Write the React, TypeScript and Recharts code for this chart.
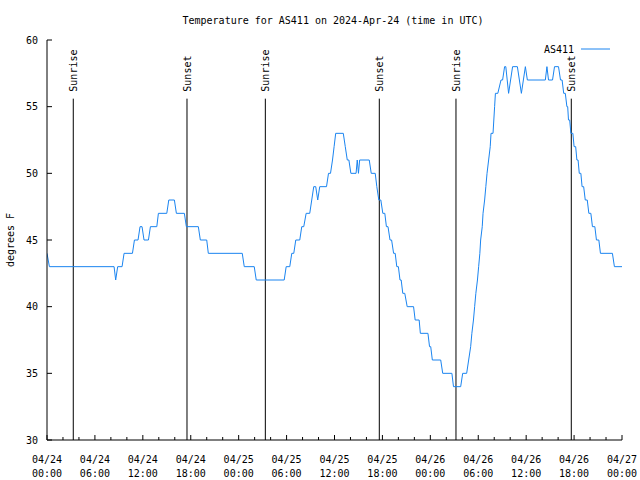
import React from 'react';
import { LineChart, Line, XAxis, YAxis, ReferenceLine, Legend } from 'recharts';

// Time (hours since 2024-04-24 00:00 UTC) and temperature (°F) breakpoints
const hours = [
  0, 0.3, 8.4, 8.6, 8.85, 9.4, 9.65, 10.7, 10.95, 11.4, 11.65, 11.9, 12.15, 12.7, 12.95, 13.75, 13.95,
  15.0, 15.25, 15.95, 16.2, 17.2, 17.45, 18.95, 19.2, 20.0, 20.2, 24.45, 24.7, 25.95, 26.2, 29.7,
  29.95, 30.4, 30.65, 30.9, 31.15, 31.65, 31.9, 32.15, 32.45, 32.9, 33.15, 33.4, 33.65, 33.9, 34.15,
  35.0, 35.25, 35.5, 35.75, 35.95, 36.15, 37.1, 37.35, 37.6, 37.8, 38.05, 38.7, 38.85, 39.0, 39.15,
  40.35, 40.6, 41.1, 41.3, 41.55, 41.8, 42.05, 42.3, 42.5, 42.7, 42.95, 43.15, 43.4, 43.6, 43.8, 44.0,
  44.2, 44.35, 44.55, 44.8, 45.1, 45.9, 46.1, 46.6, 46.75, 47.7, 47.9, 48.05, 48.25, 49.3, 49.55, 50.7,
  50.9, 51.8, 52.05, 52.55, 52.8, 53.05, 53.2, 53.4, 53.55, 53.7, 53.9, 54.05, 54.2, 54.3, 54.5, 54.6,
  54.8, 54.95, 55.1, 55.3, 55.5, 55.6, 55.85, 55.95, 56.05, 56.15, 56.45, 56.85, 57.05, 57.3, 57.45,
  57.8, 58.3, 58.9, 59.4, 59.9, 60.15, 62.4, 62.6, 62.8, 63.3, 63.55, 64.05, 64.3, 64.5, 64.7, 64.9,
  65.1, 65.2, 65.3, 65.45, 65.6, 65.85, 66.0, 66.2, 66.35, 66.5, 66.65, 66.85, 67.0, 67.2, 67.4, 67.65,
  67.85, 68.1, 68.3, 68.6, 68.8, 69.1, 69.3, 70.8, 71.05, 72,
];
const temps = [
  44, 43, 43, 42, 43, 43, 44, 44, 45, 45, 46, 46, 45, 45, 46, 46, 47,
  47, 48, 48, 47, 47, 46, 46, 45, 45, 44, 44, 43, 43, 42, 42,
  43, 43, 44, 44, 45, 45, 46, 46, 47, 47, 48, 49, 49, 48, 49,
  49, 50, 50, 51, 52, 53, 53, 52, 51, 51, 50, 50, 51, 50, 51,
  51, 50, 50, 49, 48, 48, 47, 47, 46, 46, 45, 45, 44, 44, 43, 43,
  42, 42, 41, 41, 40, 40, 39, 39, 38, 38, 37, 37, 36, 36, 35, 35,
  34, 34, 35, 35, 36, 37, 38, 39, 40, 41, 42, 43, 44, 45, 46, 47,
  48, 49, 50, 51, 52, 53, 53, 54, 55, 56, 56, 57, 57, 58, 58,
  56, 58, 58, 56, 58, 57, 57, 58, 57, 57, 58, 58, 57, 57, 56, 56,
  55, 55, 54, 54, 53, 53, 52, 52, 51, 51, 50, 50, 49, 49, 48, 48,
  47, 47, 46, 46, 45, 45, 44, 44, 43, 43,
];

const data = hours.map((h, i) => ({ h, t: temps[i] }));

const xTicks = [0, 2, 4, 6, 8, 10, 12, 14, 16, 18, 20, 22, 24, 26, 28, 30, 32, 34, 36, 38, 40, 42, 44, 46, 48, 50, 52, 54, 56, 58, 60, 62, 64, 66, 68, 70, 72];
const majorXTicks = [0, 6, 12, 18, 24, 30, 36, 42, 48, 54, 60, 66, 72];
const xDateLabels = ['04/24', '04/24', '04/24', '04/24', '04/25', '04/25', '04/25', '04/25', '04/26', '04/26', '04/26', '04/26', '04/27'];
const xTimeLabels = ['00:00', '06:00', '12:00', '18:00', '00:00', '06:00', '12:00', '18:00', '00:00', '06:00', '12:00', '18:00', '00:00'];
const yTicks = [30, 35, 40, 45, 50, 55, 60];

const sunHours = [3.29, 17.53, 27.34, 41.61, 51.21, 65.65];
const sunLabels = ['Sunrise', 'Sunset', 'Sunrise', 'Sunset', 'Sunrise', 'Sunset'];
const sunLineTop = 55.6;

const FONT = '"DejaVu Sans Mono", "Liberation Mono", monospace';
const LINE_COLOR = '#1a84f0';

const BottomTick = (props: any) => {
  const { x, y, payload } = props;
  const idx = majorXTicks.indexOf(payload.value);
  const major = idx >= 0;
  return (
    <g>
      <line x1={x} x2={x} y1={y} y2={y - (major ? 5 : 3)} stroke="#000" strokeWidth={1} />
      {major && (
        <text x={x} y={y + 22.5} textAnchor="middle" fontFamily={FONT} fontSize={10} fill="#000">
          {xDateLabels[idx]}
        </text>
      )}
      {major && (
        <text x={x} y={y + 36.5} textAnchor="middle" fontFamily={FONT} fontSize={10} fill="#000">
          {xTimeLabels[idx]}
        </text>
      )}
    </g>
  );
};

const TopTick = (props: any) => {
  const { x, y, payload } = props;
  const major = majorXTicks.indexOf(payload.value) >= 0;
  return <line x1={x} x2={x} y1={y} y2={y + (major ? 5 : 3)} stroke="#000" strokeWidth={1} />;
};

const LeftTick = (props: any) => {
  const { x, y, payload } = props;
  return (
    <g>
      <line x1={x} x2={x + 5} y1={y} y2={y} stroke="#000" strokeWidth={1} />
      <text x={x - 9} y={y + 3.5} textAnchor="end" fontFamily={FONT} fontSize={10} fill="#000">
        {payload.value}
      </text>
    </g>
  );
};

const RightTick = (props: any) => {
  const { x, y } = props;
  return <line x1={x} x2={x - 5} y1={y} y2={y} stroke="#000" strokeWidth={1} />;
};

const makeSunLabel = (text: string) => (props: any) => {
  const vb = props.viewBox || {};
  const x = (vb.x ?? 0) + 4;
  const y = (vb.y ?? 0) - 7;
  return (
    <text
      x={x}
      y={y}
      transform={`rotate(-90, ${x}, ${y})`}
      textAnchor="start"
      fontFamily={FONT}
      fontSize={10}
      fill="#000"
    >
      {text}
    </text>
  );
};

const LegendContent = () => (
  <svg width={90} height={18} style={{ display: 'block' }}>
    <text x={44} y={12.5} textAnchor="end" fontFamily={FONT} fontSize={10} fill="#000">
      AS411
    </text>
    <line x1={51} x2={80} y1={9} y2={9} stroke={LINE_COLOR} strokeWidth={1} />
  </svg>
);

export default function App() {
  return (
    <div style={{ position: 'absolute', left: 0, top: 0, width: 640, height: 480, background: '#fff' }}>
      <LineChart
        width={640}
        height={480}
        data={data}
        margin={{ top: 40, right: 18, bottom: 0, left: 0 }}
      >
        <XAxis
          xAxisId={0}
          dataKey="h"
          type="number"
          domain={[0, 72]}
          ticks={xTicks}
          interval={0}
          allowDataOverflow
          height={40}
          tickSize={0}
          tickMargin={0}
          tickLine={false}
          axisLine={{ stroke: '#000' }}
          tick={<BottomTick />}
        />
        <XAxis
          xAxisId="top"
          orientation="top"
          dataKey="h"
          type="number"
          domain={[0, 72]}
          ticks={xTicks}
          interval={0}
          allowDataOverflow
          height={0}
          tickSize={0}
          tickMargin={0}
          tickLine={false}
          axisLine={{ stroke: '#000' }}
          tick={<TopTick />}
        />
        <YAxis
          yAxisId={0}
          type="number"
          domain={[30, 60]}
          ticks={yTicks}
          interval={0}
          allowDataOverflow
          width={47}
          tickSize={0}
          tickMargin={0}
          tickLine={false}
          axisLine={{ stroke: '#000' }}
          tick={<LeftTick />}
        />
        <YAxis
          yAxisId="right"
          orientation="right"
          type="number"
          domain={[30, 60]}
          ticks={yTicks}
          interval={0}
          allowDataOverflow
          width={0}
          tickSize={0}
          tickMargin={0}
          tickLine={false}
          axisLine={{ stroke: '#000' }}
          tick={<RightTick />}
        />
        {sunHours.map((h, i) => (
          <ReferenceLine
            key={`sun-${i}`}
            xAxisId={0}
            yAxisId={0}
            segment={[{ x: h, y: sunLineTop }, { x: h, y: 30 }]}
            stroke="#000"
            strokeWidth={1}
            label={makeSunLabel(sunLabels[i])}
          />
        ))}
        <Line
          xAxisId={0}
          yAxisId={0}
          type="linear"
          dataKey="t"
          name="AS411"
          stroke={LINE_COLOR}
          strokeWidth={1}
          dot={false}
          activeDot={false}
          isAnimationActive={false}
        />
        <Legend
          layout="horizontal"
          verticalAlign="middle"
          align="center"
          wrapperStyle={{ left: 530, top: 40, width: 90, height: 18 }}
          content={<LegendContent />}
        />
      </LineChart>
      <svg
        width={640}
        height={480}
        style={{ position: 'absolute', left: 0, top: 0, pointerEvents: 'none' }}
      >
        <text x={333} y={23.5} textAnchor="middle" fontFamily={FONT} fontSize={10} fill="#000">
          Temperature for AS411 on 2024-Apr-24 (time in UTC)
        </text>
        <text
          x={13.5}
          y={240}
          transform="rotate(-90, 13.5, 240)"
          textAnchor="middle"
          fontFamily={FONT}
          fontSize={10}
          fill="#000"
        >
          degrees F
        </text>
      </svg>
    </div>
  );
}
